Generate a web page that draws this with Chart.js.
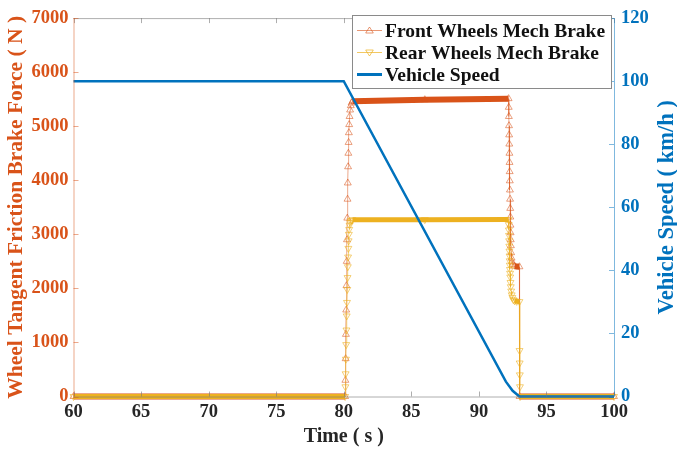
<!DOCTYPE html>
<html>
<head>
<meta charset="utf-8">
<script src="https://cdn.jsdelivr.net/npm/chart.js@4"></script>
<style>
  html, body { margin: 0; padding: 0; background: #fff; }
</style>
</head>
<body>
<canvas id="grafico" width="677" height="450"></canvas>
<script>
// front wheels mech brake (N)
const frontTime = [60, 80.10,
  80.12, 80.14, 80.16, 80.18, 80.20, 80.22, 80.24, 80.26, 80.28, 80.30, 80.32, 80.34, 80.36, 80.38, 80.40,
  80.43, 80.47, 80.52, 80.58, 80.65, 86, 92.20,
  92.21, 92.22, 92.23, 92.24, 92.25, 92.26, 92.27, 92.28, 92.29, 92.30, 92.31, 92.32, 92.33, 92.34, 92.35, 92.36, 92.37,
  92.39, 92.42, 92.46, 92.52, 92.64, 93.00, 93.01, 100];
const frontForce = [0, 0,
  300, 700, 1150, 1600, 2050, 2500, 2900, 3300, 3650, 3950, 4250, 4500, 4700, 4880, 5030,
  5180, 5300, 5380, 5430, 5460, 5490, 5510,
  5350, 5180, 5010, 4840, 4670, 4500, 4330, 4160, 3990, 3820, 3650, 3480, 3320, 3170, 3030, 2900, 2790,
  2660, 2560, 2490, 2440, 2410, 2400, 0, 0];

// rear wheels mech brake (N)
const rearTime = [60, 80.10,
  80.12, 80.14, 80.16, 80.18, 80.20, 80.22, 80.24, 80.26, 80.28, 80.30, 80.32, 80.34, 80.36, 80.38, 80.40,
  80.43, 80.47, 80.52, 80.58, 80.65, 86, 92.20,
  92.21, 92.22, 92.23, 92.24, 92.25, 92.26, 92.27, 92.28, 92.29, 92.30, 92.31, 92.32,
  92.34, 92.36, 92.39, 92.43, 92.48, 92.55, 92.65, 92.80, 93.00,
  93.01, 93.02, 93.03, 93.04, 93.05, 100];
const rearForce = [0, 0,
  180, 420, 690, 960, 1230, 1490, 1740, 1980, 2200, 2400, 2580, 2740, 2880, 3000, 3090,
  3170, 3220, 3250, 3262, 3268, 3272, 3275,
  3180, 3080, 2980, 2880, 2780, 2690, 2600, 2510, 2430, 2350, 2280, 2210,
  2110, 2030, 1950, 1880, 1830, 1790, 1770, 1760, 1755,
  850, 620, 400, 180, 0, 0];

// vehicle speed (km/h)
const speedTime = [60, 80, 92, 92.5, 93, 100];
const speedKmh = [100, 100, 4.7, 1.8, 0, 0];

const xTicks = [60, 65, 70, 75, 80, 85, 90, 95, 100];

const ORANGE = '#D95319';
const YELLOW = '#EDB120';
const BLUE = '#0072BD';
const FONT = "'Liberation Serif', 'Times New Roman', serif";

function pts(t, v) {
  return t.map((x, i) => ({ x: x, y: v[i] }));
}

// flat stretches look thick in the original because the markers pile up
function flat(ctx) {
  return Math.abs(ctx.p0.y - ctx.p1.y) < 3 && Math.abs(ctx.p1.x - ctx.p0.x) > 2;
}

const framePlugin = {
  id: 'frame',
  afterDatasetsDraw(chart) {
    const c = chart.ctx;
    const a = chart.chartArea;
    const sx = chart.scales.x, sl = chart.scales.yl, sr = chart.scales.yr;
    c.save();
    c.lineWidth = 1;
    // top & bottom
    c.strokeStyle = 'rgba(120,120,120,0.6)';
    c.beginPath();
    c.moveTo(a.left, a.top + 0.5); c.lineTo(a.right, a.top + 0.5);
    c.moveTo(a.left, a.bottom + 0.5); c.lineTo(a.right, a.bottom + 0.5);
    xTicks.forEach(v => {
      const p = Math.round(sx.getPixelForValue(v)) + 0.5;
      c.moveTo(p, a.bottom); c.lineTo(p, a.bottom - 5);
      c.moveTo(p, a.top); c.lineTo(p, a.top + 5);
    });
    c.stroke();
    // left axis
    c.strokeStyle = 'rgba(217,83,25,0.5)';
    c.beginPath();
    c.moveTo(a.left + 0.5, a.top); c.lineTo(a.left + 0.5, a.bottom);
    sl.ticks.forEach(t => {
      const p = Math.round(sl.getPixelForValue(t.value)) + 0.5;
      c.moveTo(a.left, p); c.lineTo(a.left + 5, p);
    });
    c.stroke();
    // right axis
    c.strokeStyle = 'rgba(0,114,189,0.5)';
    c.beginPath();
    c.moveTo(a.right + 0.5, a.top); c.lineTo(a.right + 0.5, a.bottom);
    sr.ticks.forEach(t => {
      const p = Math.round(sr.getPixelForValue(t.value)) + 0.5;
      c.moveTo(a.right, p); c.lineTo(a.right - 5, p);
    });
    c.stroke();

    // right axis title, reading bottom to top
    c.fillStyle = BLUE;
    c.font = 'bold 22.5px ' + FONT;
    c.textAlign = 'center';
    c.textBaseline = 'middle';
    c.translate(667, (a.top + a.bottom) / 2);
    c.rotate(-Math.PI / 2);
    c.fillText('Vehicle Speed ( km/h )', 0, 0);
    c.restore();

    // legend box
    c.save();
    c.fillStyle = '#fff';
    c.strokeStyle = '#8a8a8a';
    c.lineWidth = 1;
    c.fillRect(352.5, 15.5, 259, 73);
    c.strokeRect(352.5, 15.5, 259, 73);
    const rows = [
      { text: 'Front Wheels Mech Brake', color: 'rgba(217,83,25,0.6)', marker: 'up' },
      { text: 'Rear Wheels Mech Brake', color: 'rgba(237,177,32,0.7)', marker: 'down' },
      { text: 'Vehicle Speed', color: BLUE, marker: null }
    ];
    rows.forEach((r, i) => {
      const y = 30.5 + i * 22;
      c.strokeStyle = r.color;
      c.lineWidth = r.marker ? 1 : 3;
      c.beginPath();
      c.moveTo(357, y); c.lineTo(382, y);
      c.stroke();
      if (r.marker) {
        const d = r.marker === 'up' ? 1 : -1;
        c.lineWidth = 1;
        c.beginPath();
        c.moveTo(369.5, y - 3.5 * d);
        c.lineTo(373.3, y + 2.5 * d);
        c.lineTo(365.7, y + 2.5 * d);
        c.closePath();
        c.stroke();
      }
      c.fillStyle = '#111';
      c.font = 'bold 19.5px ' + FONT;
      c.textAlign = 'left';
      c.textBaseline = 'middle';
      c.fillText(r.text, 385, y + 1);
    });
    c.restore();
  }
};

const ctx = document.getElementById('grafico');

new Chart(ctx, {
  type: 'line',
  data: {
    datasets: [{
      label: 'Front Wheels Mech Brake',
      data: pts(frontTime, frontForce),
      yAxisID: 'yl',
      order: 2,
      borderColor: 'rgba(217,83,25,0.5)',
      borderWidth: 1,
      pointStyle: 'triangle',
      pointRadius: 4,
      pointBorderWidth: 1,
      pointBorderColor: 'rgba(217,83,25,0.55)',
      pointBackgroundColor: 'rgba(0,0,0,0)',
      clip: 6,
      segment: {
        borderWidth: c => flat(c) ? 6 : 1,
        borderColor: c => flat(c) ? ORANGE : 'rgba(217,83,25,0.5)'
      }
    },
    {
      label: 'Rear Wheels Mech Brake',
      data: pts(rearTime, rearForce),
      yAxisID: 'yl',
      order: 1,
      borderColor: 'rgba(237,177,32,0.6)',
      borderWidth: 1,
      pointStyle: 'triangle',
      pointRotation: 180,
      pointRadius: 4,
      pointBorderWidth: 1,
      pointBorderColor: 'rgba(237,177,32,0.6)',
      pointBackgroundColor: 'rgba(0,0,0,0)',
      clip: 6,
      segment: {
        borderWidth: c => flat(c) ? 5 : 1,
        borderColor: c => flat(c) ? YELLOW : 'rgba(237,177,32,0.6)'
      }
    },
    {
      label: 'Vehicle Speed',
      data: pts(speedTime, speedKmh),
      yAxisID: 'yr',
      order: 0,
      borderColor: BLUE,
      borderWidth: 2.5,
      pointRadius: 0,
      clip: 6
    }]
  },
  options: {
    responsive: false,
    animation: false,
    events: [],
    layout: { padding: { top: 14 } },
    plugins: {
      legend: { display: false },
      tooltip: { enabled: false }
    },
    scales: {
      x: {
        type: 'linear',
        min: 60,
        max: 100,
        afterFit: s => { s.height = 53.5; },
        grid: { display: false, drawTicks: false },
        border: { display: false },
        ticks: {
          stepSize: 5,
          padding: 5,
          color: '#262626',
          callback: v => String(v),
          font: { family: FONT, size: 18.5, weight: 'bold' }
        },
        title: {
          display: true,
          text: 'Time ( s )',
          color: '#262626',
          padding: { top: 0, bottom: 1 },
          font: { family: FONT, size: 20, weight: 'bold' }
        }
      },
      yl: {
        type: 'linear',
        position: 'left',
        min: 0,
        max: 7000,
        afterFit: s => { s.width = 73.5; },
        grid: { display: false, drawTicks: false },
        border: { display: false },
        ticks: {
          stepSize: 1000,
          padding: 5,
          color: ORANGE,
          callback: v => String(v),
          font: { family: FONT, size: 18.5, weight: 'bold' }
        },
        title: {
          display: true,
          text: 'Wheel Tangent Friction Brake Force ( N )',
          color: ORANGE,
          padding: { top: 4, bottom: 0 },
          font: { family: FONT, size: 21.5, weight: 'bold' }
        }
      },
      yr: {
        type: 'linear',
        position: 'right',
        min: 0,
        max: 120,
        afterFit: s => { s.width = 63; },
        grid: { display: false, drawTicks: false },
        border: { display: false },
        ticks: {
          stepSize: 20,
          padding: 7,
          color: BLUE,
          callback: v => String(v),
          font: { family: FONT, size: 18.5, weight: 'bold' }
        }
      }
    }
  },
  plugins: [framePlugin]
});
</script>
</body>
</html>
